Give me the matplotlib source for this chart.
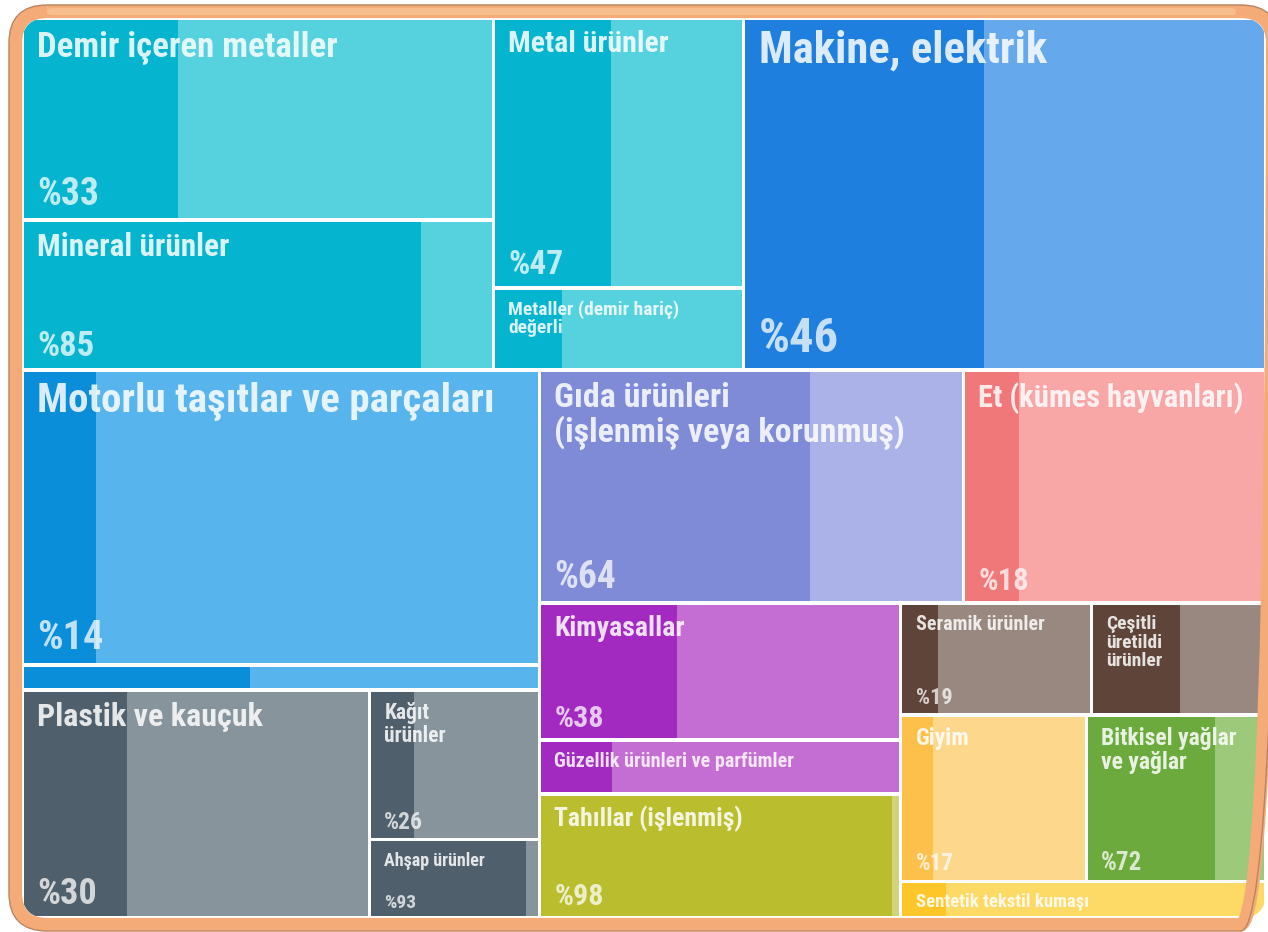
import matplotlib.pyplot as plt
from matplotlib.patches import Rectangle, FancyBboxPatch
from matplotlib import font_manager as fm

# treemap data (value ~ export size, share = dark part ratio)
labels = ["Demir içeren metaller", "Mineral ürünler", "Metal ürünler",
          "Metaller (demir hariç)\ndeğerli", "Makine, elektrik",
          "Motorlu taşıtlar ve parçaları", "", "Plastik ve kauçuk",
          "Kağıt\nürünler", "Ahşap ürünler",
          "Gıda ürünleri\n(işlenmiş veya korunmuş)", "Et (kümes hayvanları)",
          "Kimyasallar", "Güzellik ürünleri ve parfümler", "Tahıllar (işlenmiş)",
          "Seramik ürünler", "Çeşitli\nüretildi\nürünler", "Giyim",
          "Bitkisel yağlar\nve yağlar", "Sentetik tekstil kumaşı"]
values = [953, 708, 678, 206, 1841,
          1528, 130, 793, 255, 133,
          990, 706, 496, 195, 449, 214, 196, 309, 299, 135]
shares = [33, 85, 47, 27, 46,
          14, 44, 30, 26, 93,
          64, 18, 38, 20, 98, 19, 51, 17, 72, 12]
groups = ["teal", "teal", "teal", "teal", "makine",
          "motor", "motor", "plastik", "plastik", "plastik",
          "gida", "et", "kimya", "kimya", "tahil",
          "seramik", "seramik", "giyim", "bitkisel", "sentetik"]

# nesting of the treemap: ('h', ...) side by side, ('v', ...) stacked
tree = ('v', [
    ('h', [('v', [0, 1]), ('v', [2, 3]), 4]),
    ('h', [
        ('v', [5, 6, ('h', [7, ('v', [8, 9])])]),
        ('v', [
            ('h', [10, 11]),
            ('h', [('v', [12, 13, 14]),
                   ('v', [('h', [15, 16]), ('h', [17, 18]), 19])]),
        ]),
    ]),
])

colors = {
    "teal": ("#05B4CE", "#56D1DE"),
    "makine": ("#1F7FDF", "#66A8EC"),
    "motor": ("#0B8EDA", "#58B4EC"),
    "plastik": ("#4F5F6B", "#87949B"),
    "gida": ("#7F8BD6", "#ABB2E8"),
    "et": ("#F07878", "#F9A6A6"),
    "kimya": ("#A22AC1", "#C46ED3"),
    "tahil": ("#BABE2E", "#D0D47C"),
    "seramik": ("#5E4439", "#988880"),
    "giyim": ("#FDC04B", "#FDD88C"),
    "bitkisel": ("#6DAA3E", "#9CC97A"),
    "sentetik": ("#FFC62A", "#FDD965"),
}
label_size = [25, 22.5, 21.5, 14, 32, 29.5, 0, 23, 15.5, 13,
              24.5, 22, 20, 14.5, 18.5, 14.5, 14, 17, 17, 13.5]
pct_size = [27, 25, 24, 0, 35, 29, 0, 26, 17, 14,
            27, 22, 21.5, 0, 21.5, 16, 0, 16.5, 18, 0]

names = {f.name for f in fm.fontManager.ttflist}
FONT = "DejaVu Sans"
for cand in ["Liberation Sans Narrow", "Roboto Condensed", "Open Sans Condensed"]:
    if cand in names:
        FONT = cand
        break


def weight(node):
    if isinstance(node, int):
        return values[node]
    return sum(weight(c) for c in node[1])


rects = {}


def layout(node, x, y, w, h):
    if isinstance(node, int):
        rects[node] = (x, y, w, h)
        return
    d, kids = node
    tot = weight(node)
    pos = 0
    for k in kids:
        f = weight(k) / tot
        if d == 'h':
            layout(k, x + pos, y, w * f, h)
            pos += w * f
        else:
            layout(k, x, y + pos, w, h * f)
            pos += h * f


X0, Y0, W, H = 22, 18, 1244, 900
layout(tree, X0, Y0, W, H)

fig = plt.figure(figsize=(12.68, 9.32), dpi=100)
ax = fig.add_axes([0, 0, 1, 1])
ax.set_xlim(0, 1268)
ax.set_ylim(932, 0)
ax.axis("off")

clip = FancyBboxPatch((X0, Y0), W, H, boxstyle="round,pad=0,rounding_size=26",
                      facecolor="white", edgecolor="none")
ax.add_patch(clip)

g = 1.6
for i, (x, y, w, h) in rects.items():
    dark, light = colors[groups[i]]
    r1 = Rectangle((x + g, y + g), w - 2 * g, h - 2 * g, facecolor=light, edgecolor="none")
    r2 = Rectangle((x + g, y + g), (w - 2 * g) * shares[i] / 100, h - 2 * g,
                   facecolor=dark, edgecolor="none")
    for r in (r1, r2):
        ax.add_patch(r)
        r.set_clip_path(clip)
    if label_size[i]:
        ax.text(x + 15, y + 12, labels[i], fontsize=label_size[i], family=FONT,
                fontweight="bold", color="white", alpha=0.85, va="top", ha="left",
                linespacing=1.05)
    if pct_size[i]:
        em = pct_size[i] * 100 / 72
        ax.text(x + 15, y + h - (5 + 0.26 * em), "%" + str(shares[i]), fontsize=pct_size[i],
                family=FONT, fontweight="bold", color="white", alpha=0.75,
                va="baseline", ha="left")

# orange frame
ax.add_patch(FancyBboxPatch((X0 - 6.5, Y0 - 6.5), W + 13, H + 13,
                            boxstyle="round,pad=0,rounding_size=32",
                            facecolor="none", edgecolor="#F5AB78", lw=9.5))
ax.add_patch(FancyBboxPatch((X0 - 13, Y0 - 13), W + 26, H + 26,
                            boxstyle="round,pad=0,rounding_size=38",
                            facecolor="none", edgecolor="#B98462", lw=1.0))
ax.plot([50, 1232], [11, 11], color="#F9C896", lw=5, solid_capstyle="round", alpha=0.7)

fig.savefig("out.png", dpi=100)
